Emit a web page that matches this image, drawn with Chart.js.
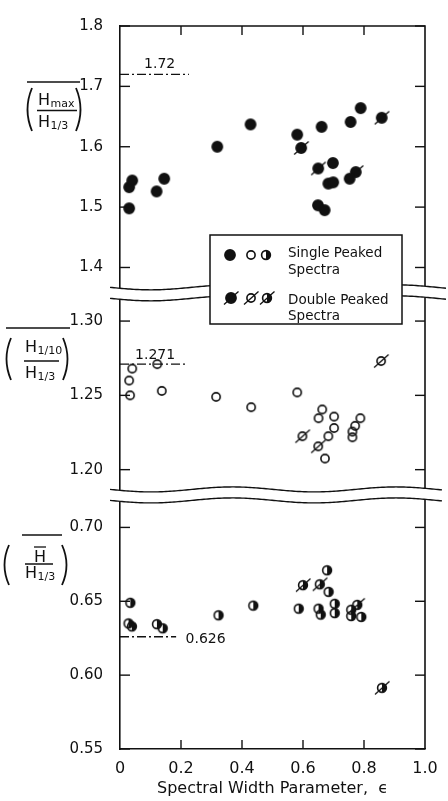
<!DOCTYPE html>
<html>
<head>
<meta charset="utf-8">
<style>
  html, body { margin: 0; padding: 0; background: #fff; }
  #wrap { width: 448px; height: 801px; }
</style>
<script src="https://cdn.jsdelivr.net/npm/chart.js@4.4.1/dist/chart.umd.min.js"></script>
</head>
<body>
<div id="wrap"><canvas id="waveChart"></canvas></div>
<script>
// Hmax / H1/3
const hmaxSingleEps = [0.030, 0.030, 0.040, 0.120, 0.145, 0.319, 0.428, 0.581, 0.661, 0.756, 0.789, 0.698, 0.683, 0.699, 0.649, 0.671, 0.753];
const hmaxSingle = [1.498, 1.533, 1.544, 1.526, 1.547, 1.600, 1.637, 1.620, 1.633, 1.641, 1.664, 1.573, 1.539, 1.541, 1.503, 1.495, 1.547];
const hmaxDoubleEps = [0.594, 0.650, 0.773, 0.858];
const hmaxDouble = [1.598, 1.564, 1.558, 1.648];

// H1/10 / H1/3
const h10SingleEps = [0.040, 0.030, 0.033, 0.122, 0.137, 0.315, 0.430, 0.581, 0.663, 0.651, 0.702, 0.702, 0.683, 0.672, 0.762, 0.762, 0.771, 0.788];
const h10Single = [1.268, 1.260, 1.250, 1.271, 1.253, 1.249, 1.242, 1.252, 1.2405, 1.2346, 1.2357, 1.228, 1.2225, 1.2075, 1.2256, 1.2218, 1.2295, 1.2346];
const h10DoubleEps = [0.598, 0.650, 0.856];
const h10Double = [1.2225, 1.2157, 1.2731];

// Hmean / H1/3
const hmeanSingleEps = [0.034, 0.028, 0.039, 0.121, 0.140, 0.323, 0.437, 0.586, 0.679, 0.684, 0.651, 0.658, 0.704, 0.704, 0.758, 0.758, 0.791];
const hmeanSingle = [0.649, 0.635, 0.633, 0.6345, 0.6317, 0.6405, 0.6471, 0.645, 0.671, 0.6564, 0.645, 0.641, 0.6483, 0.642, 0.6443, 0.640, 0.6394];
const hmeanDoubleEps = [0.600, 0.655, 0.778, 0.859];
const hmeanDouble = [0.6609, 0.6615, 0.6476, 0.5914];

// Rayleigh values
const refLevels = [1.72, 1.271, 0.626];
const refLabels = ["1.72", "1.271", "0.626"];
const refEnds = [0.226, 0.22, 0.184];

// axes
const epsTicks = [0, 0.2, 0.4, 0.6, 0.8, 1.0];
const hmaxTicks = [1.4, 1.5, 1.6, 1.7, 1.8];
const h10Ticks = [1.20, 1.25, 1.30];
const hmeanTicks = [0.55, 0.60, 0.65, 0.70];
const hmaxRange = [1.358, 1.8];
const h10Range = [1.183, 1.319];
const hmeanRange = [0.55, 0.722];

const FONT = "'DejaVu Sans', sans-serif";
const INK = "#111";

function pairs(xs, ys) {
  return xs.map((x, i) => ({ x: x, y: ys[i] }));
}

// little canvases used as point symbols
function makeMarker(kind, slash) {
  const c = document.createElement("canvas");
  c.width = 22;
  c.height = 22;
  const g = c.getContext("2d");
  g.strokeStyle = INK;
  g.fillStyle = INK;
  g.lineWidth = 1.6;
  const r = kind === "full" ? 5.1 : kind === "half" ? 4.4 : 4.1;
  g.beginPath();
  g.arc(11, 11, r, 0, Math.PI * 2);
  if (kind === "full") g.fill();
  g.stroke();
  if (kind === "half") {
    g.beginPath();
    g.arc(11, 11, r, -Math.PI / 2, Math.PI / 2);
    g.closePath();
    g.fill();
  }
  if (slash) {
    g.lineWidth = 1.3;
    g.beginPath();
    g.moveTo(4, 17.5);
    g.lineTo(18.5, 4.5);
    g.stroke();
  }
  return c;
}

const markers = {
  full: makeMarker("full", false),
  fullSlash: makeMarker("full", true),
  open: makeMarker("open", false),
  openSlash: makeMarker("open", true),
  half: makeMarker("half", false),
  halfSlash: makeMarker("half", true),
};

function pointSet(xs, ys, axis, style) {
  return {
    data: pairs(xs, ys),
    yAxisID: axis,
    pointStyle: style,
    pointRadius: 5,
    showLine: false,
  };
}

function refSet(i, axis) {
  return {
    type: "line",
    data: [{ x: 0, y: refLevels[i] }, { x: refEnds[i], y: refLevels[i] }],
    yAxisID: axis,
    borderColor: INK,
    borderWidth: 1.3,
    borderDash: [9, 3, 2, 3],
    pointRadius: 0,
    showLine: true,
  };
}

function panelAxis(range, ticks, digits, weight) {
  return {
    type: "linear",
    position: "left",
    stack: "panels",
    stackWeight: weight,
    min: range[0],
    max: range[1],
    afterBuildTicks: (s) => { s.ticks = ticks.map((v) => ({ value: v })); },
    afterFit: (s) => { s.width = 120; },
    grid: { display: false, drawTicks: false },
    border: { display: true, color: INK, width: 1.6 },
    ticks: {
      padding: 17,
      color: INK,
      font: { family: FONT, size: 15 },
      callback: (v) => v.toFixed(digits),
    },
  };
}

function wave(ctx, x0, x1, y, phase) {
  ctx.moveTo(x0, y + 2.5 * Math.sin(phase));
  for (let x = x0; x <= x1; x += 2) {
    ctx.lineTo(x, y + 2.5 * Math.sin((x - x0) / 26 + phase));
  }
}

function drawBreak(ctx, yc, x0, x1) {
  ctx.save();
  ctx.beginPath();
  wave(ctx, x0, x1, yc - 5.5, 0);
  for (let x = x1; x >= x0; x -= 2) {
    ctx.lineTo(x, yc + 5.5 + 2.5 * Math.sin((x - x0) / 26));
  }
  ctx.closePath();
  ctx.fillStyle = "#fff";
  ctx.fill();
  ctx.strokeStyle = INK;
  ctx.lineWidth = 1.4;
  ctx.beginPath();
  wave(ctx, x0, x1, yc - 5.5, 0);
  ctx.stroke();
  ctx.beginPath();
  wave(ctx, x0, x1, yc + 5.5, 0);
  ctx.stroke();
  ctx.restore();
}

function seg(ctx, x0, y0, x1, y1) {
  ctx.beginPath();
  ctx.moveTo(x0, y0);
  ctx.lineTo(x1, y1);
  ctx.stroke();
}

// H with a subscript, left edge at x, baseline at y
function hWithSub(ctx, x, y, sub) {
  ctx.font = "16px " + FONT;
  ctx.textAlign = "left";
  ctx.textBaseline = "alphabetic";
  ctx.fillText("H", x, y);
  const w = ctx.measureText("H").width;
  if (sub) {
    ctx.font = "11px " + FONT;
    ctx.fillText(sub, x + w + 0.5, y + 2);
  }
}

function parens(ctx, l, r, top, bottom) {
  const mid = (top + bottom) / 2;
  ctx.lineWidth = 1.8;
  ctx.beginPath();
  ctx.moveTo(l + 6, top);
  ctx.quadraticCurveTo(l - 3, mid, l + 6, bottom);
  ctx.stroke();
  ctx.beginPath();
  ctx.moveTo(r - 6, top);
  ctx.quadraticCurveTo(r + 3, mid, r - 6, bottom);
  ctx.stroke();
}

function drawTitles(ctx) {
  ctx.save();
  ctx.fillStyle = INK;
  ctx.strokeStyle = INK;

  // Hmax / H1/3
  ctx.lineWidth = 1.5;
  seg(ctx, 27, 82, 80, 82);
  parens(ctx, 26, 82, 88, 131);
  hWithSub(ctx, 38, 105, "max");
  ctx.lineWidth = 1.5;
  seg(ctx, 37, 110.5, 77, 110.5);
  hWithSub(ctx, 38, 127, "1/3");

  // H1/10 / H1/3
  ctx.lineWidth = 1.5;
  seg(ctx, 6, 328, 70, 328);
  parens(ctx, 5, 69, 338, 380);
  hWithSub(ctx, 25, 352, "1/10");
  ctx.lineWidth = 1.5;
  seg(ctx, 24, 361, 59, 361);
  hWithSub(ctx, 25, 378, "1/3");

  // Hmean / H1/3
  ctx.lineWidth = 1.5;
  seg(ctx, 22, 535, 62, 535);
  parens(ctx, 3, 68, 545, 585);
  hWithSub(ctx, 34, 562, "");
  ctx.lineWidth = 1.3;
  seg(ctx, 34, 547, 46, 547);
  ctx.lineWidth = 1.5;
  seg(ctx, 25, 564, 53, 564);
  hWithSub(ctx, 25, 578, "1/3");
  ctx.restore();
}

function drawKey(ctx) {
  ctx.save();
  ctx.fillStyle = "#fff";
  ctx.fillRect(210, 235, 192, 89);
  ctx.strokeStyle = INK;
  ctx.lineWidth = 1.5;
  ctx.strokeRect(210, 235, 192, 89);
  const put = (m, x, y) => ctx.drawImage(m, x - 11, y - 11);
  put(markers.full, 230, 255);
  put(markers.open, 251, 255);
  put(markers.half, 266, 255);
  put(markers.fullSlash, 231, 298);
  put(markers.openSlash, 251, 298);
  put(markers.halfSlash, 267, 298);
  ctx.fillStyle = INK;
  ctx.font = "13.5px " + FONT;
  ctx.textAlign = "left";
  ctx.textBaseline = "middle";
  ctx.fillText("Single Peaked", 288, 253);
  ctx.fillText("Spectra", 288, 270);
  ctx.fillText("Double Peaked", 288, 300);
  ctx.fillText("Spectra", 288, 316);
  ctx.restore();
}

const panelDecor = {
  id: "panelDecor",
  afterDatasetsDraw(chart) {
    const { ctx, chartArea: a, scales } = chart;
    ctx.save();
    ctx.strokeStyle = INK;
    ctx.lineWidth = 1.6;
    ctx.beginPath();
    ctx.moveTo(a.left, a.top);
    ctx.lineTo(a.right, a.top);
    ctx.lineTo(a.right, a.bottom);
    ctx.stroke();

    // inward tick marks on all four sides
    ctx.lineWidth = 1.4;
    ["yTop", "yMid", "yBot"].forEach((id) => {
      const s = scales[id];
      s.ticks.forEach((t) => {
        const y = s.getPixelForValue(t.value);
        seg(ctx, a.left, y, a.left + 10, y);
        seg(ctx, a.right - 10, y, a.right, y);
      });
    });
    scales.x.ticks.forEach((t) => {
      if (t.value <= 0 || t.value >= 1) return;
      const x = scales.x.getPixelForValue(t.value);
      seg(ctx, x, a.top, x, a.top + 9);
      seg(ctx, x, a.bottom - 9, x, a.bottom);
    });

    drawBreak(ctx, scales.yTop.bottom, 110, 446);
    drawBreak(ctx, scales.yMid.bottom, 110, 443);

    // labels on the reference lines
    ctx.fillStyle = INK;
    ctx.font = "14px " + FONT;
    ctx.textBaseline = "middle";
    ctx.textAlign = "center";
    ctx.fillText(refLabels[0], scales.x.getPixelForValue(0.13), scales.yTop.getPixelForValue(refLevels[0]) - 10);
    ctx.fillText(refLabels[1], scales.x.getPixelForValue(0.115), scales.yMid.getPixelForValue(refLevels[1]) - 9);
    ctx.textAlign = "left";
    ctx.fillText(refLabels[2], scales.x.getPixelForValue(0.215), scales.yBot.getPixelForValue(refLevels[2]) + 3);
    ctx.restore();

    drawTitles(ctx);
    drawKey(ctx);
  },
};

new Chart(document.getElementById("waveChart"), {
  type: "scatter",
  data: {
    datasets: [
      pointSet(hmaxSingleEps, hmaxSingle, "yTop", markers.full),
      pointSet(hmaxDoubleEps, hmaxDouble, "yTop", markers.fullSlash),
      pointSet(h10SingleEps, h10Single, "yMid", markers.open),
      pointSet(h10DoubleEps, h10Double, "yMid", markers.openSlash),
      pointSet(hmeanSingleEps, hmeanSingle, "yBot", markers.half),
      pointSet(hmeanDoubleEps, hmeanDouble, "yBot", markers.halfSlash),
      refSet(0, "yTop"),
      refSet(1, "yMid"),
      refSet(2, "yBot"),
    ],
  },
  options: {
    responsive: true,
    maintainAspectRatio: false,
    animation: false,
    layout: { padding: { top: 12, right: 23, left: 0, bottom: 0 } },
    plugins: { legend: { display: false }, tooltip: { enabled: false } },
    scales: {
      x: {
        type: "linear",
        min: 0,
        max: 1,
        afterBuildTicks: (s) => { s.ticks = epsTicks.map((v) => ({ value: v })); },
        afterFit: (s) => { s.height = 52; },
        grid: { display: false, drawTicks: false },
        border: { display: true, color: INK, width: 1.6 },
        ticks: {
          padding: 10,
          color: INK,
          font: { family: FONT, size: 16 },
          callback: (v) => (v === 0 ? "0" : v.toFixed(1)),
        },
        title: {
          display: true,
          text: "Spectral Width Parameter,  \u03f5",
          color: INK,
          font: { family: FONT, size: 16 },
          padding: { top: 0, bottom: 3 },
        },
      },
      yBot: panelAxis(hmeanRange, hmeanTicks, 2, 259),
      yMid: panelAxis(h10Range, h10Ticks, 2, 206),
      yTop: panelAxis(hmaxRange, hmaxTicks, 1, 272),
    },
  },
  plugins: [panelDecor],
});
</script>
</body>
</html>
